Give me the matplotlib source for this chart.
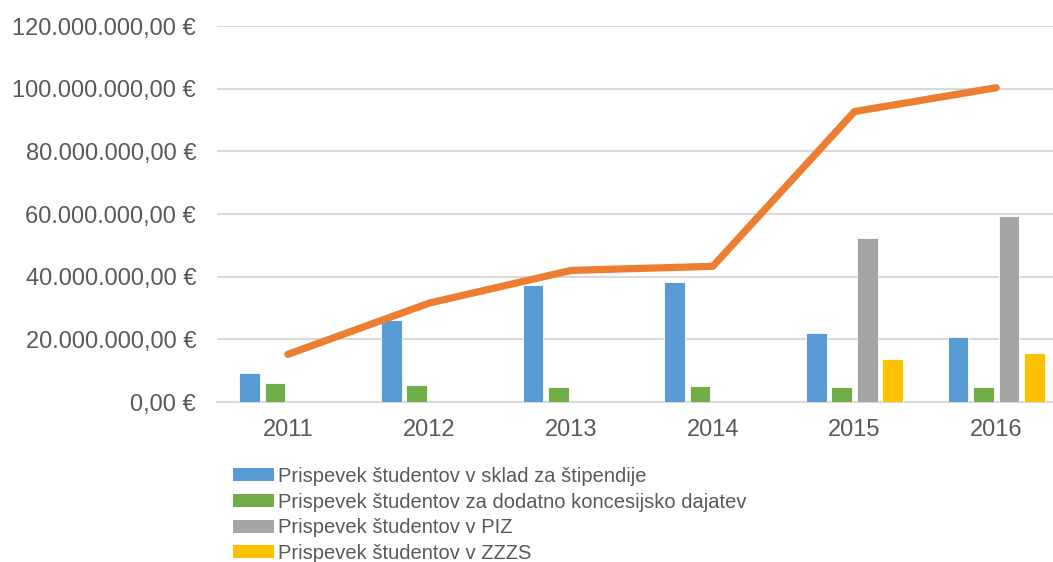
import matplotlib
matplotlib.use("Agg")
import matplotlib.pyplot as plt
import numpy as np
from matplotlib.patches import Patch
from matplotlib.ticker import FuncFormatter

years = ["2011", "2012", "2013", "2014", "2015", "2016"]
sklad = [9.15e6, 26.2e6, 37.2e6, 38.2e6, 22.0e6, 20.6e6]
koncesija = [6.05e6, 5.4e6, 4.8e6, 5.1e6, 4.8e6, 4.8e6]
piz = [0, 0, 0, 0, 52.2e6, 59.4e6]
zzzs = [0, 0, 0, 0, 13.7e6, 15.5e6]
skupaj = [15.2e6, 31.6e6, 42.0e6, 43.3e6, 92.7e6, 100.3e6]

labels = [
    "Prispevek študentov v sklad za štipendije",
    "Prispevek študentov za dodatno koncesijsko dajatev",
    "Prispevek študentov v PIZ",
    "Prispevek študentov v ZZZS",
]
colors = ["#5B9BD5", "#70AD47", "#A5A5A5", "#FFC000"]
text_color = "#595959"
grid_color = "#D9D9D9"

plt.rcParams["font.family"] = ["Liberation Sans", "DejaVu Sans"]


def euro(v, _pos=None):
    s = f"{v:,.2f}".replace(",", "X").replace(".", ",").replace("X", ".")
    return f"{s} €"


fig = plt.figure(figsize=(10.53, 5.62), dpi=100)
ax = fig.add_axes([217 / 1053, 160 / 562, 850 / 1053, 376 / 562])

x = np.arange(len(years))
pitch = 0.18
width = 0.145
series = [sklad, koncesija, piz, zzzs]
for i, (vals, col) in enumerate(zip(series, colors)):
    ax.bar(x + (i - 1.5) * pitch, vals, width=width, color=col,
           edgecolor="white", linewidth=0.6, zorder=3)

ax.plot(x, skupaj, color="#ED7D31", linewidth=5.2, solid_capstyle="round",
        solid_joinstyle="round", zorder=4)

ax.set_xlim(-0.5, len(years) - 0.5)
ax.set_ylim(0, 120e6)
ax.set_yticks(np.arange(0, 120e6 + 1, 20e6))
ax.yaxis.set_major_formatter(FuncFormatter(euro))
ax.set_xticks(x, labels=years)

ax.grid(axis="y", color=grid_color, linewidth=1.5, zorder=0)
ax.set_axisbelow(True)
for side in ["top", "right", "left"]:
    ax.spines[side].set_visible(False)
ax.spines["bottom"].set_color(grid_color)
ax.spines["bottom"].set_linewidth(1.5)
ax.tick_params(axis="both", length=0, labelsize=17, labelcolor=text_color)
ax.tick_params(axis="y", pad=15)
ax.tick_params(axis="x", pad=12)

# legend runs off the bottom edge like in the original export
handles = [Patch(facecolor=c, edgecolor="none") for c in colors]
fig.legend(handles, labels, loc="upper left", bbox_to_anchor=(233 / 1053, 1 - 467 / 562),
           frameon=False, fontsize=14.5, labelcolor=text_color,
           handlelength=2.05, handleheight=0.62, handletextpad=0.2,
           labelspacing=0.33, borderaxespad=0, borderpad=0)

fig.savefig("out.png", dpi=100)
